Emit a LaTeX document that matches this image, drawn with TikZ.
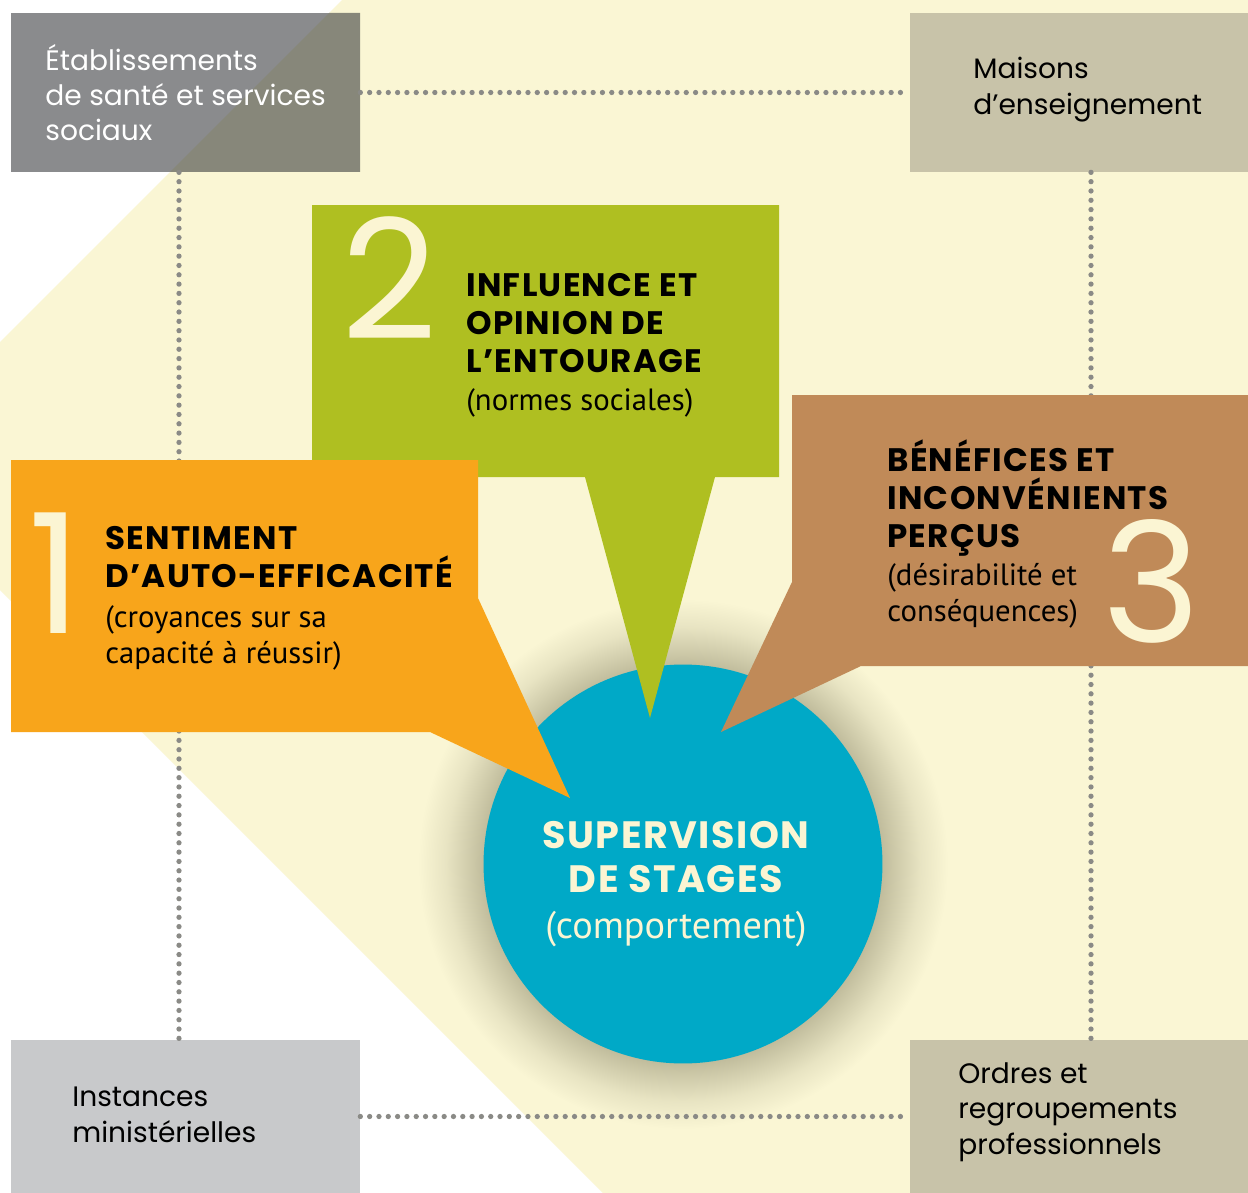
\documentclass[tikz,border=0pt]{standalone}
\usepackage{fontspec}
\newfontfamily\gothfont{Poppins}
\newfontfamily\titlefont[LetterSpace=4]{Poppins}
\newfontfamily\myrfont{PT Sans}
\usetikzlibrary{fit}

\definecolor{fond}{HTML}{FAF6D4}
\definecolor{ombre}{HTML}{BEBA9A}
\definecolor{vert}{HTML}{AFBF21}
\definecolor{orange}{HTML}{F8A51B}
\definecolor{brun}{HTML}{C08A58}
\definecolor{bleu}{HTML}{00A9C7}
\definecolor{creme}{HTML}{FBF5D3}
\definecolor{gris}{HTML}{8A8B8D}
\definecolor{grisfonce}{HTML}{87877A}
\definecolor{beige}{HTML}{C8C3A9}
\definecolor{grisclair}{HTML}{C8C9CB}
\definecolor{points}{HTML}{8A8A86}

% soft halo under the circle
\pgfdeclareradialshading{halo}{\pgfpoint{0bp}{0bp}}{color(0bp)=(ombre);
  color(18.6bp)=(ombre); color(20.2bp)=(fond!30!ombre); color(22.4bp)=(fond!70!ombre);
  color(25bp)=(fond); color(50bp)=(fond)}

\begin{document}
\begin{tikzpicture}[x=0.02cm,y=-0.02cm,every node/.style={inner sep=0pt}]
  \tikzstyle{boxfill}=[inner sep=0pt]
  \tikzstyle{boxlabel}=[font=\gothfont\fontsize{16}{20.1}\selectfont,align=left,anchor=base west]
  \tikzstyle{calltitle}=[font=\titlefont\bfseries\fontsize{18.5}{21.5}\selectfont,align=left,anchor=base west]
  \tikzstyle{callnote}=[font=\myrfont\fontsize{17.5}{20.4}\selectfont,align=left,anchor=base west]
  \tikzstyle{bignum}=[font=\gothfont\fontsize{95}{95}\selectfont,text=creme,anchor=base]
  \tikzstyle{dotline}=[draw=points,line width=3pt,line cap=round,dash pattern=on 0pt off 5.3pt]

  \useasboundingbox (0,0) rectangle (1248,1193);
  \fill[white] (0,0) rectangle (1248,1193);
  \fill[fond] (342,0) -- (1248,0) -- (1248,1193) -- (603,1193) -- (0,590) -- (0,342) -- cycle;
  \coordinate (c) at (683,864);
  \shade[shading=halo] (c) circle (265);

  % the four partner boxes
  \node[boxfill,fill=gris,fit={(11,13) (360,172)}] (etab) {};
  \fill[grisfonce] (329,13) -- (360,13) -- (360,172) -- (170,172) -- cycle;
  \node[boxfill,fill=beige,fit={(910,13) (1248,172)}] (maisons) {};
  \node[boxfill,fill=grisclair,fit={(11,1040) (360,1193)}] (instances) {};
  \node[boxfill,fill=beige,fit={(910,1040) (1248,1193)}] (ordres) {};

  % (base anchor = last line)
  \node[boxlabel,text=white] (etabtxt) at (45,141) {Établissements\\de santé et services\\sociaux};
  \node[boxlabel] (maisonstxt) at (973,114) {Maisons\\d’enseignement};
  \node[boxlabel] (instancestxt) at (72,1142) {Instances\\ministérielles};
  \node[boxlabel] (ordrestxt) at (958,1154) {Ordres et\\regroupements\\professionnels};

  \coordinate (lx) at (179,0);
  \coordinate (rx) at (1091,0);
  \path[dotline]
  (etab) -- (maisons)
  (instances) -- (ordres)
  (etab.south -| lx) -- (instances.north -| lx)
  (maisons.south -| rx) -- (ordres.north -| rx)
  ;

  % behaviour
  \node[circle,fill=bleu,minimum size=7.98cm] (sup) at (c) {};

  % the three callouts
  \fill[vert] (312,205) -- (779,205) -- (779,477) -- (715,477) -- (650,718)
    -- (585,477) -- (312,477) -- cycle;
  \fill[orange] (11,460) -- (478,460) -- (478,598) -- (570,798) -- (430,732)
    -- (11,732) -- cycle;
  \fill[brun] (792,395) -- (1248,395) -- (1248,666) -- (861,666) -- (721,732)
    -- (792,582) -- cycle;

  \node[bignum] (n2) at (389,339) {2};
  \node[calltitle] (t2) at (466,372) {INFLUENCE ET\\OPINION DE\\L’ENTOURAGE};
  \node[callnote] (c2) at (466,410) {(normes sociales)};

  \node[bignum] (n1) at (55,633) {1};
  \node[calltitle] (t1) at (105,587) {SENTIMENT\\D’AUTO-EFFICACITÉ};
  \node[callnote] (c1) at (105,663) {(croyances sur sa\\capacité à réussir)};

  \node[bignum] (n3) at (1152,642) {3};
  \node[calltitle] (t3) at (887,547) {BÉNÉFICES ET\\INCONVÉNIENTS\\PERÇUS};
  \node[callnote] (c3) at (887,621) {(désirabilité et\\conséquences)};

  \node[calltitle,text=creme,align=center,anchor=base,
    font=\titlefont\bfseries\fontsize{21.7}{25}\selectfont] (suptxt) at (676,892)
    {SUPERVISION\\DE STAGES};
  \node[callnote,text=creme,anchor=base,font=\myrfont\fontsize{21.8}{25}\selectfont]
    (supnote) at (676,938) {(comportement)};
\end{tikzpicture}
\end{document}
